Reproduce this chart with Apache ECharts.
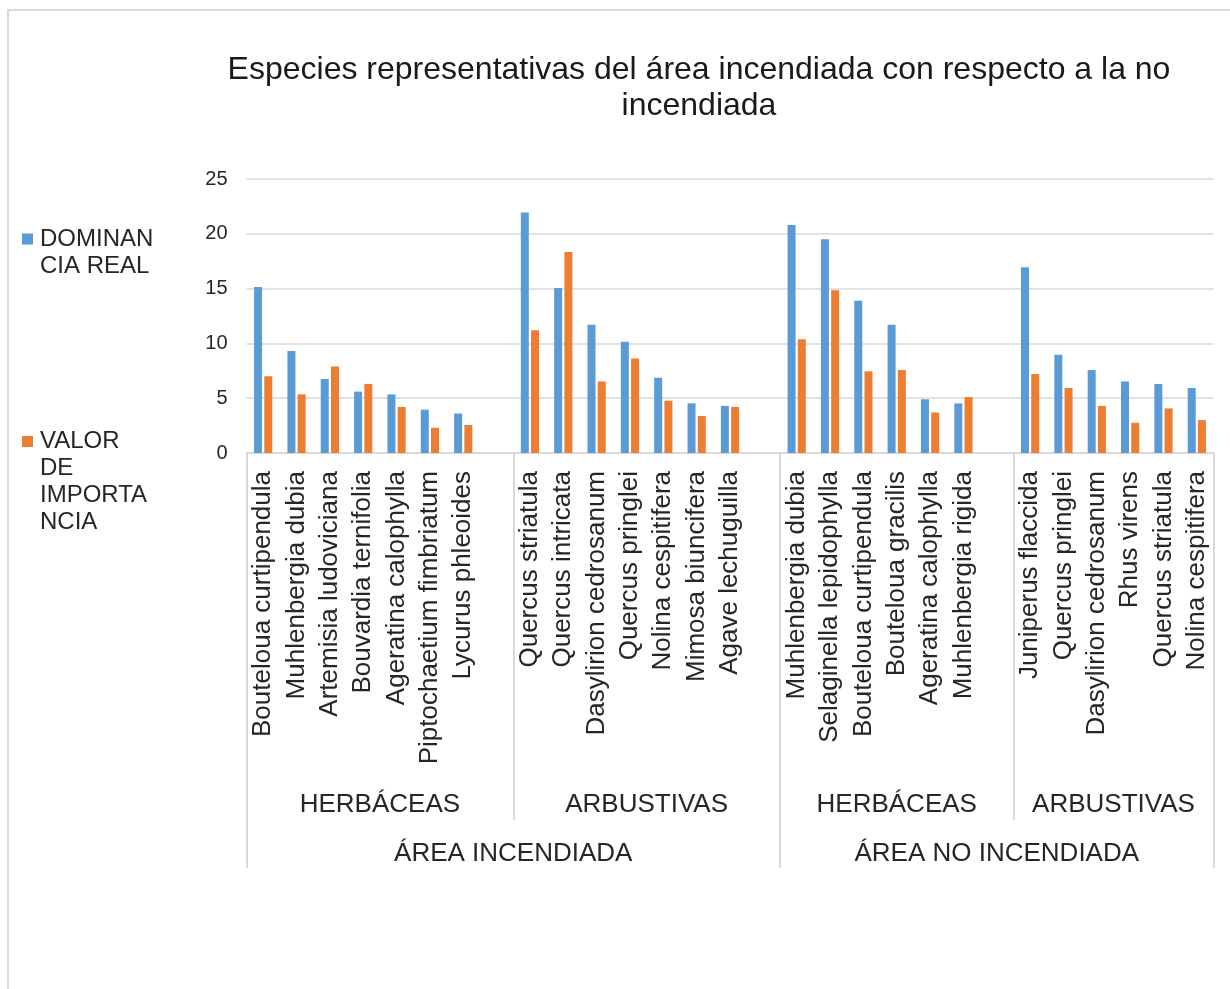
<!DOCTYPE html>
<html>
<head>
<meta charset="utf-8">
<script src="https://cdn.jsdelivr.net/npm/echarts@6/dist/echarts.min.js"></script>
<style>
  html, body { margin: 0; padding: 0; background: #ffffff; }
  #chart { width: 1230px; height: 989px; }
</style>
</head>
<body>
<div id="chart"></div>
<script>
// Species per block (burned area: herbs, shrubs; unburned area: herbs, shrubs)
const herbIncSpecies = ['Bouteloua curtipendula', 'Muhlenbergia dubia', 'Artemisia ludoviciana', 'Bouvardia ternifolia', 'Ageratina calophylla', 'Piptochaetium fimbriatum', 'Lycurus phleoides'];
const arbIncSpecies = ['Quercus striatula', 'Quercus intricata', 'Dasylirion cedrosanum', 'Quercus pringlei', 'Nolina cespitifera', 'Mimosa biuncifera', 'Agave lechuguilla'];
const herbNoSpecies = ['Muhlenbergia dubia', 'Selaginella lepidophylla', 'Bouteloua curtipendula', 'Bouteloua gracilis', 'Ageratina calophylla', 'Muhlenbergia rigida'];
const arbNoSpecies = ['Juniperus flaccida', 'Quercus pringlei', 'Dasylirion cedrosanum', 'Rhus virens', 'Quercus striatula', 'Nolina cespitifera'];

// Dominancia real
const herbIncDom = [15.15, 9.3, 6.75, 5.6, 5.35, 3.95, 3.6];
const arbIncDom = [21.95, 15.05, 11.7, 10.15, 6.87, 4.53, 4.3];
const herbNoDom = [20.8, 19.5, 13.9, 11.7, 4.9, 4.53];
const arbNoDom = [16.95, 8.97, 7.57, 6.53, 6.3, 5.93];

// Valor de importancia
const herbIncImp = [7.0, 5.35, 7.9, 6.3, 4.2, 2.3, 2.55];
const arbIncImp = [11.2, 18.34, 6.53, 8.63, 4.77, 3.37, 4.2];
const herbNoImp = [10.37, 14.84, 7.45, 7.57, 3.7, 5.1];
const arbNoImp = [7.2, 5.93, 4.29, 2.76, 4.07, 3.0];

const seriesNames = ['DOMINANCIA REAL', 'VALOR DE IMPORTANCIA'];
const legendLines = [['DOMINAN', 'CIA REAL'], ['VALOR', 'DE', 'IMPORTA', 'NCIA']];
const typeLabels = ['HERBÁCEAS', 'ARBUSTIVAS', 'HERBÁCEAS', 'ARBUSTIVAS'];
const areaLabels = ['ÁREA INCENDIADA', 'ÁREA NO INCENDIADA'];
const yTicks = [0, 5, 10, 15, 20, 25];

const titleText = 'Especies representativas del área incendiada con respecto a la no\nincendiada';

// Build the flat category axis: each block followed by an empty slot except the last
const blocks = [
  [herbIncSpecies, herbIncDom, herbIncImp],
  [arbIncSpecies, arbIncDom, arbIncImp],
  [herbNoSpecies, herbNoDom, herbNoImp],
  [arbNoSpecies, arbNoDom, arbNoImp]
];
const blockArea = [0, 0, 1, 1];

const categories = [];
const domAll = [];
const impAll = [];
const blockStart = [];
const blockEnd = [];
blocks.forEach(function (b, i) {
  blockStart.push(categories.length);
  b[0].forEach(function (name, j) {
    categories.push(name);
    domAll.push(b[1][j]);
    impAll.push(b[2][j]);
  });
  if (i < blocks.length - 1) {
    categories.push('');
    domAll.push(null);
    impAll.push(null);
  }
  blockEnd.push(categories.length);
});
const nSlots = categories.length;

// Positions (in slot units) for the grouping levels
const typeCenters = blocks.map(function (b, i) { return (blockStart[i] + blockEnd[i]) / 2; });
const typeDividers = blocks.slice(1).map(function (b, i) { return blockStart[i + 1]; })
  .filter(function (v, i) { return blockArea[i] === blockArea[i + 1]; });
const areaStart = areaLabels.map(function (a, k) { return blockStart[blockArea.indexOf(k)]; });
const areaEnd = areaLabels.map(function (a, k) { return blockEnd[blockArea.lastIndexOf(k)]; });
const areaCenters = areaLabels.map(function (a, k) { return (areaStart[k] + areaEnd[k]) / 2; });
const areaDividers = [0].concat(areaEnd);

function labelAt(values, labels) {
  return function (v) {
    for (let i = 0; i < values.length; i++) {
      if (Math.abs(values[i] - v) < 1e-6) return labels[i];
    }
    return '';
  };
}

// Legend text: empty lines in front keep the marker level with the first line
function legendText(lines) {
  const pad = new Array(lines.length - 1).fill('');
  return pad.concat(lines).join('\n');
}

const FONT = 'Liberation Sans, Arial, sans-serif';
const TEXT = '#262626';
const LINE = '#d9d9d9';

const chart = echarts.init(document.getElementById('chart'), null, { renderer: 'canvas' });

chart.setOption({
  animation: false,
  backgroundColor: '#ffffff',
  textStyle: { fontFamily: FONT },
  title: {
    text: titleText,
    left: 699,
    top: 52,
    padding: 0,
    textAlign: 'center',
    textStyle: { fontFamily: FONT, fontSize: 32, fontWeight: 'normal', color: '#1a1a1a', lineHeight: 36 }
  },
  legend: [0, 1].map(function (k) {
    return {
      data: [{ name: seriesNames[k] }],
      orient: 'vertical',
      left: 22,
      top: k === 0 ? 198.5 : 347,
      padding: 0,
      icon: 'rect',
      itemWidth: 11,
      itemHeight: 11,
      selectedMode: false,
      formatter: function () { return legendText(legendLines[k]); },
      textStyle: { fontFamily: FONT, fontSize: 24, lineHeight: 27, color: TEXT, padding: [0, 0, 0, 2] }
    };
  }),
  grid: {
    left: 246.5,
    right: 16.5,
    top: 179,
    bottom: 536,
    outerBoundsMode: 'none'
  },
  xAxis: [
    {
      type: 'category',
      data: categories,
      axisLine: { show: true, lineStyle: { color: LINE, width: 2 } },
      axisTick: { show: false },
      axisLabel: {
        interval: 0, rotate: 90, margin: 18,
        fontFamily: FONT, fontSize: 26, color: TEXT
      },
      splitLine: { show: false }
    },
    {
      type: 'value',
      min: 0, max: nSlots,
      position: 'bottom',
      axisLine: { show: false },
      splitLine: { show: false },
      axisTick: {
        show: true, inside: false, length: 367, customValues: typeDividers,
        lineStyle: { color: LINE, width: 2 }
      },
      axisLabel: {
        show: true, margin: 339, customValues: typeCenters,
        formatter: labelAt(typeCenters, typeLabels),
        fontFamily: FONT, fontSize: 26, color: TEXT
      }
    },
    {
      type: 'value',
      min: 0, max: nSlots,
      position: 'bottom',
      axisLine: { show: false },
      splitLine: { show: false },
      axisTick: {
        show: true, inside: false, length: 415, customValues: areaDividers,
        lineStyle: { color: LINE, width: 2 }
      },
      axisLabel: {
        show: true, margin: 388, customValues: areaCenters,
        formatter: labelAt(areaCenters, areaLabels),
        fontFamily: FONT, fontSize: 26, color: TEXT
      }
    }
  ],
  yAxis: {
    type: 'value',
    min: yTicks[0],
    max: yTicks[yTicks.length - 1],
    interval: yTicks[1] - yTicks[0],
    axisLine: { show: false },
    axisTick: { show: false },
    axisLabel: { margin: 19, fontFamily: FONT, fontSize: 20, color: TEXT },
    splitLine: { show: true, lineStyle: { color: LINE, width: 1.5 } }
  },
  series: [
    {
      name: seriesNames[0],
      type: 'bar',
      xAxisIndex: 0,
      data: domAll,
      barWidth: 8,
      barGap: '28%',
      itemStyle: { color: '#5b9bd5' }
    },
    {
      name: seriesNames[1],
      type: 'bar',
      xAxisIndex: 0,
      data: impAll,
      barWidth: 8,
      barGap: '28%',
      itemStyle: { color: '#ed7d31' }
    }
  ],
  graphic: [
    {
      type: 'rect',
      silent: true,
      shape: { x: 8, y: 10, width: 1240, height: 1000 },
      style: { fill: 'none', stroke: LINE, lineWidth: 2 }
    }
  ]
});
</script>
</body>
</html>
